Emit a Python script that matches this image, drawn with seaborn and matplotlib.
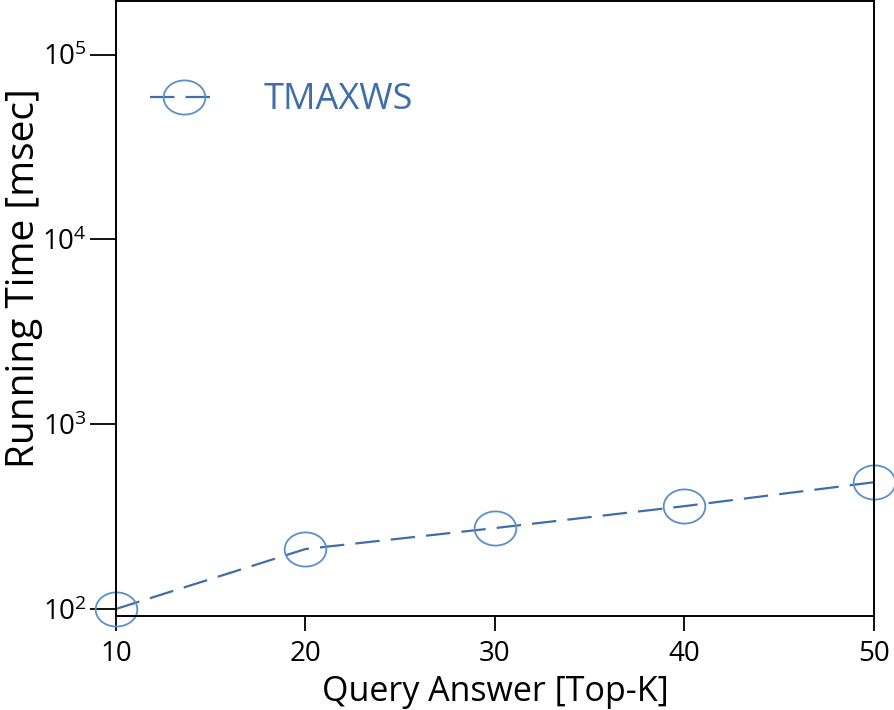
import numpy as np
import pandas as pd
import seaborn as sns
import matplotlib.pyplot as plt
from matplotlib.path import Path

# values
top_k = [10, 20, 30, 40, 50]
running_time = [100, 211, 274, 360, 485]
series_name = "TMAXWS"

df = pd.DataFrame({"k": top_k, "time": running_time})

sns.set_style("ticks")
plt.rcParams['font.family'] = ['Open Sans', 'DejaVu Sans']
plt.rcParams['mathtext.fontset'] = 'custom'
plt.rcParams['mathtext.rm'] = 'Open Sans'
plt.rcParams['text.color'] = 'black'
plt.rcParams['axes.labelcolor'] = 'black'

line_color = "#3f6fa6"
marker_color = "#5a8fcc"

# open ellipse marker (wider than tall)
t = np.linspace(0, 2 * np.pi, 60)
ellipse = Path(np.column_stack([np.cos(t), 0.82 * np.sin(t)]))

fig = plt.figure(figsize=(8.95, 7.1), dpi=100)
ax = fig.add_axes([0.1296, 0.1324, 0.8469, 0.8656])

sns.lineplot(data=df, x="k", y="time", ax=ax, label=series_name,
             color=line_color, linewidth=1.6, linestyle=(0, (11, 5)),
             marker=ellipse, markersize=30, markerfacecolor="none",
             markeredgecolor=marker_color, markeredgewidth=1.3, clip_on=False)

ax.set_yscale("log")
ax.set_xlim(10, 50)
ax.set_ylim(91.6, 1.94e5)
ax.set_xticks([10, 20, 30, 40, 50])
ax.set_yticks([1e2, 1e3, 1e4, 1e5])
ax.minorticks_off()
ax.tick_params(axis="y", length=19, width=1.3, labelsize=20, pad=2, colors="black")
ax.tick_params(axis="x", length=11, width=1.3, labelsize=20, pad=6, colors="black")
for s in ax.spines.values():
    s.set_linewidth(1.4)
    s.set_color("black")

ax.set_xlabel("Query Answer [Top-K]", fontsize=24.5, labelpad=5)
ax.set_ylabel("Running Time [msec]", fontsize=28)
ax.yaxis.set_label_coords(-0.096, 0.55)

ax.legend(loc="center left", bbox_to_anchor=(0.045, 0.839), frameon=False,
          fontsize=26, labelcolor=line_color, borderpad=0, borderaxespad=0,
          handlelength=1.9, handletextpad=1.25)

fig.savefig("out.png", dpi=100)
